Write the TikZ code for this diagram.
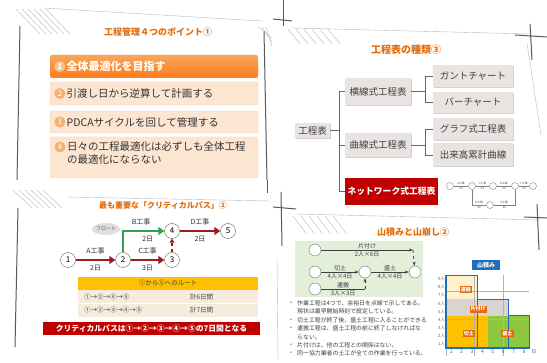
\documentclass[tikz,border=0pt]{standalone}
\usepackage{fontspec}
\setmainfont{Noto Sans CJK JP}
\usetikzlibrary{positioning,arrows.meta,shadows,shapes.geometric}

\definecolor{ttlorange}{HTML}{E46C0A}
\definecolor{itembg}{HTML}{FCE6D2}
\definecolor{itemline}{HTML}{F2D2B4}
\definecolor{numbg}{HTML}{F5B071}
\definecolor{boxgray}{HTML}{E9E4E2}
\definecolor{netred}{HTML}{C00000}
\definecolor{pathred}{HTML}{9E1B1B}
\definecolor{floatgreen}{HTML}{2FA34A}
\definecolor{tblhead}{HTML}{FFC000}
\definecolor{tblrow}{HTML}{F6EBDC}
\definecolor{panelgreen}{HTML}{E3EFD9}
\definecolor{kirido}{HTML}{FFC000}
\definecolor{morido}{HTML}{8DC63F}
\definecolor{katazuke}{HTML}{D9D4D1}
\definecolor{unpan}{HTML}{FFF2CC}
\definecolor{gridblue}{HTML}{1F6FB8}

\tikzset{
  slidettl/.style={font=\bfseries\fontsize{#1}{#1}\selectfont, text=ttlorange},
  item/.style={rectangle, rounded corners=2pt, draw=itemline, fill=itembg, minimum width=208, minimum height=#1},
  itemnum/.style={circle, fill=numbg, text=white, inner sep=0pt, minimum size=11, font=\fontsize{8}{8}\selectfont},
  itemtxt/.style={anchor=west, inner sep=1pt, align=left, font=\fontsize{10.5}{13}\selectfont, text=black!80},
  kbox/.style={fill=boxgray, drop shadow={shadow xshift=1pt, shadow yshift=-1pt, opacity=.35}, inner sep=0pt, font=\fontsize{9.5}{10}\selectfont, text=black!75},
  sketch/.style={draw=gray!55, line width=0.4pt},
  frame/.style={draw=black!65, line width=1pt},
}

\begin{document}
\begin{tikzpicture}[x=1pt, y=-1pt]
\useasboundingbox (0,0) rectangle (547,363);
\fill[white] (0,0) rectangle (547,363);

% sketchy slide frames
\begin{scope}
  \foreach \a in {0,6,12,18,24,30} \draw[sketch] (16+\a,9) -- (40+\a,34);
  \draw[sketch] (43,8) -- (262,21);
  \draw[frame] (20,26) -- (17,180);
  \draw[frame] (264,31) -- (267,180);
  \foreach \a in {0,4,8} \draw[sketch] (258+\a,27) -- (272,38+\a);
  \draw[frame] (283,0) -- (283,26);
  \draw[frame] (273,19) -- (292,21);
  \foreach \a in {0,8,16,24,32,40} \draw[sketch] (288+\a,29) -- (300+\a,44);
  \draw[sketch] (292,28) -- (530,34);
  \draw[frame] (530,24) -- (532,60);
  \draw[frame] (515,35) -- (547,37);
  \draw[sketch] (527,43) -- (541,135);
  \foreach \a in {0,6,12,18,24,30} \draw[sketch] (13+\a,190) -- (32+\a,208);
  \draw[sketch] (67,197) -- (270,201);
  \draw[frame] (18,208) -- (15,347);
  \draw[frame] (267,180) -- (267,193);
  \draw[frame] (281,192) -- (282,246);
  \draw[frame] (273,207) -- (296,209);
  \foreach \a in {0,8,16,24,32,40} \draw[sketch] (293+\a,216) -- (306+\a,233);
  \draw[sketch] (296,214) -- (540,220);
  \draw[frame] (537,204) -- (539,250);
  \draw[frame] (524,217) -- (547,218);
  \draw[sketch] (277,258) -- (278,360);
\end{scope}

% slide 1
\node[slidettl=9] (t1) at (158,32) {工程管理４つのポイント①};
\node[item=23, draw=none, top color=numbg!80!orange, bottom color=orange!85!red!90] (p1) at (154,66.5) {};
\node[item=23] (p2) at (154,93.5) {};
\node[item=22] (p3) at (154,122) {};
\node[item=41] (p4) at (154,157.5) {};
\node[itemnum, fill=numbg!75!white, font=\bfseries\fontsize{8}{8}\selectfont] (n1) at ([xshift=10]p1.west) {1};
\node[itemnum] (n2) at ([xshift=10]p2.west) {2};
\node[itemnum] (n3) at ([xshift=10]p3.west) {3};
\node[itemnum] (n4) at (60,147) {4};
\node[itemtxt, text=white, font=\bfseries\fontsize{11}{13}\selectfont] at (n1.east) {全体最適化を目指す};
\node[itemtxt] at (n2.east) {引渡し日から逆算して計画する};
\node[itemtxt] at (n3.east) {PDCAサイクルを回して管理する};
\node[itemtxt, anchor=north west] at (66,140) {日々の工程最適化は必ずしも全体工程\\の最適化にならない};

% slide 2
\node[slidettl=10] (t2) at (406,50) {工程表の種類③};
\begin{scope}[every node/.style={kbox}]
  \node[minimum width=35, minimum height=15] (root) at (312.5,130.5) {工程表};
  \node[minimum width=66, minimum height=27] (yoko) at (378,91.5) {横線式工程表};
  \node[minimum width=66, minimum height=24] (kyoku) at (378,145) {曲線式工程表};
  \node[minimum width=80, minimum height=22] (gantt) at (473,76) {ガントチャート};
  \node[minimum width=80, minimum height=21] (bar) at (473,102.5) {バーチャート};
  \node[minimum width=80, minimum height=22] (graph) at (473,129) {グラフ式工程表};
  \node[minimum width=80, minimum height=23] (deki) at (473,155) {出来高累計曲線};
\end{scope}
\node[fill=netred, text=white, font=\bfseries\fontsize{8.8}{10}\selectfont, minimum width=93, minimum height=27, inner sep=0pt] (net) at (391.5,191.5) {ネットワーク式工程表};
\begin{scope}[draw=black!60, line width=0.6pt]
  \draw (root.east) -- ++(9,0);
  \draw (yoko.west) -- ++(-6,0) |- (net.west);
  \draw (kyoku.west) -- ++(-6,0);
  \draw (yoko.east) -- ++(14,0);
  \draw (gantt.west) -- ++(-8,0) |- (bar.west);
  \draw (kyoku.east) -- ++(14,0);
  \draw (graph.west) -- ++(-8,0) |- (deki.west);
\end{scope}
% small network sample
\begin{scope}[every node/.style={font=\fontsize{2.8}{3}\selectfont, text=black!70, inner sep=1pt}]
  \foreach \x [count=\i] in {450,472,493,515,533}
    \node[circle, draw=gray, fill=white, minimum size=7, inner sep=0pt] (m\i) at (\x,186) {};
  \node[circle, draw=gray, fill=white, minimum size=7, inner sep=0pt] (m6) at (490,205) {};
  \foreach \a/\b/\t in {1/2/A工事, 2/3/C工事, 3/4/D工事, 4/5/F工事}
    \draw[gray, line width=0.4pt] (m\a) -- node[above]{\t} node[below]{20} (m\b);
  \draw[gray, line width=0.4pt] (m2) |- node[pos=.75, above]{B工事} node[pos=.75, below]{20} (m6);
  \draw[gray, line width=0.4pt] (m6) -| node[pos=.25, above]{E工事} node[pos=.25, below]{20} (m4);
\end{scope}

% slide 3
\node[slidettl=8] (t3) at (163,205) {最も重要な「クリティカルパス」②};
\begin{scope}[every node/.style={circle, draw=black!60, fill=white, minimum size=15, inner sep=0pt, font=\fontsize{8}{8}\selectfont}]
  \node (c1) at (68,260) {1};
  \node (c2) at (123,260) {2};
  \node (c3) at (172,260) {3};
  \node (c4) at (172,231) {4};
  \node (c5) at (228,231) {5};
\end{scope}
\node[ellipse, fill=gray!25, minimum width=28, minimum height=12, inner sep=0pt, font=\fontsize{5}{5}\selectfont, text=black!70] (float) at (106,229) {フロート};
\begin{scope}[every node/.style={font=\fontsize{7}{7}\selectfont, text=black!80}]
  \draw[pathred, line width=2.2pt, -{Triangle[length=6pt,width=8pt]}] (c1) -- node[above=1pt]{A工事} node[below=1pt]{2日} (c2);
  \draw[pathred, line width=2.2pt, -{Triangle[length=6pt,width=8pt]}] (c2) -- node[above=1pt]{C工事} node[below=1pt]{3日} (c3);
  \draw[pathred, line width=2.2pt, -{Triangle[length=6pt,width=8pt]}] (c4) -- node[above=1pt]{D工事} node[below=1pt]{2日} (c5);
  \draw[floatgreen, line width=2.2pt, -{Triangle[length=6pt,width=8pt]}] (c2) |- node[pos=.72, above=1pt]{B工事} node[pos=.8, below=1pt]{2日} (c4);
  \draw[pathred, line width=1.4pt, dashed, -{Triangle[length=4pt,width=5pt]}] (c3) -- (c4);
\end{scope}
\begin{scope}[every node/.style={minimum width=180, minimum height=13, inner sep=0pt, font=\fontsize{6.5}{7}\selectfont, text=black!75}]
  \node[fill=tblhead] (th) at (168,283.5) {①から⑤へのルート};
  \node[fill=tblrow] (r1) at (168,297) {};
  \node[fill=tblrow] (r2) at (168,310.5) {};
\end{scope}
\draw[white, line width=0.8pt] (r1.south west) -- (r1.south east);
\begin{scope}[every node/.style={anchor=west, inner sep=0pt, font=\fontsize{6.5}{7}\selectfont, text=black!75}]
  \node at ([xshift=6]r1.west) {①→②→④→⑤};
  \node at ([xshift=6]r2.west) {①→②→③→④→⑤};
  \node at ([xshift=112]r1.west) {計6日間};
  \node at ([xshift=112]r2.west) {計7日間};
\end{scope}
\node[fill=netred, text=white, font=\bfseries\fontsize{7.8}{8}\selectfont, minimum width=217, minimum height=13, inner sep=0pt] (banner) at (151.5,329) {クリティカルパスは①→②→③→④→⑤の7日間となる};

% slide 4
\node[slidettl=9] (t4) at (413,232) {山積みと山崩し②};
\fill[panelgreen] (295,241) rectangle (423,297);
\begin{scope}[every node/.style={circle, draw=black!55, fill=white, minimum size=12, inner sep=0pt}]
  \node (k1) at (315,250) {};
  \node (k2) at (315,272) {};
  \node (k3) at (315,289) {};
  \node (k4) at (365,272) {};
  \node (k5) at (415,272) {};
\end{scope}
\begin{scope}[every node/.style={font=\fontsize{6}{6}\selectfont, text=black!75, inner sep=1pt}]
  \draw[black!75, line width=0.8pt, -{Stealth[length=4pt]}] (k1) -- node[above]{片付け} node[below]{2人×6日} ++(98,0) coordinate (kz) ;
  \draw[black!75, line width=0.8pt, dashed, -{Stealth[length=4pt]}] (kz) -- (k5);
  \draw[black!75, line width=0.8pt, -{Stealth[length=4pt]}] (k2) -- node[above]{切土} node[below]{4人×4日} (k4);
  \draw[black!75, line width=0.8pt, -{Stealth[length=4pt]}] (k4) -- node[above]{盛土} node[below]{4人×4日} (k5);
  \draw[black!75, line width=0.8pt] (k3) -- node[above]{運搬} node[below]{3人×3日} ++(50,0) coordinate (ku);
  \draw[black!75, line width=0.8pt, dashed, -{Stealth[length=4pt]}] (ku) -- (k4);
\end{scope}
\begin{scope}[every node/.style={anchor=west, inner sep=0pt, font=\fontsize{5.9}{6}\selectfont, text=black!75}]
  \node[text=gray] at (290,303) {•}; \node at (297,303) {作業工程は4つで、余裕日を点線で示してある。};
  \node at (297,311.5) {現状は最早開始時刻で設定している。};
  \node[text=gray] at (290,320) {•}; \node at (297,320) {切土工程が終了後、盛土工程に入ることができる};
  \node[text=gray] at (290,328.5) {•}; \node at (297,328.5) {運搬工程は、盛土工程の前に終了しなければな};
  \node at (297,337) {らない。};
  \node[text=gray] at (290,345) {•}; \node at (297,345) {片付けは、他の工程との関係はない。};
  \node[text=gray] at (290,353.5) {•}; \node at (297,353.5) {同一協力業者の土工が全ての作業を行っている。};
\end{scope}
\node[fill=gridblue, text=white, font=\bfseries\fontsize{6}{6}\selectfont, minimum width=28, minimum height=10, inner sep=0pt] (yama) at (486,265) {山積み};
\begin{scope}[shift={(446,348)}, x=10.4pt, y=8.1pt]
  \fill[unpan] (0,6) rectangle (3,9);
  \fill[katazuke] (0,4) rectangle (6,6);
  \fill[kirido] (0,0) rectangle (4,4);
  \fill[morido] (4,0) rectangle (8,4);
  \draw[gray!60, line width=0.3pt] (0,0) grid (8,9);
  \draw[gray!60, line width=0.3pt] (0,-1) grid (8,0);
  \foreach \j in {1,...,9}
    \node[anchor=east, inner sep=1pt, font=\fontsize{4.3}{4.3}\selectfont, text=black!60] at (0,\j-0.5) {\j 人};
  \foreach \i in {1,...,8}
    \node[font=\fontsize{5}{5}\selectfont, text=gridblue] at (\i-0.5,-0.5) {\i};
  \node[anchor=west, inner sep=1pt, font=\fontsize{5}{5}\selectfont, text=black!60] at (8.1,-0.5) {日};
  \draw[gridblue, line width=1.1pt] (0,0) rectangle (3,9);
  \draw[gridblue, line width=1.1pt] (3,0) rectangle (6,6);
  \draw[gridblue, line width=1.1pt] (6,0) rectangle (8,4);
  \begin{scope}[every node/.style={fill=ttlorange, text=white, font=\bfseries\fontsize{5}{5}\selectfont, inner sep=1.2pt}]
    \node (lbunpan) at (1.9,7.2) {運搬};
    \node (lbkata) at (3.1,4.8) {片付け};
    \node (lbkiri) at (2.2,1.8) {切土};
    \node (lbmori) at (5.9,1.8) {盛土};
  \end{scope}
\end{scope}
\end{tikzpicture}
\end{document}
